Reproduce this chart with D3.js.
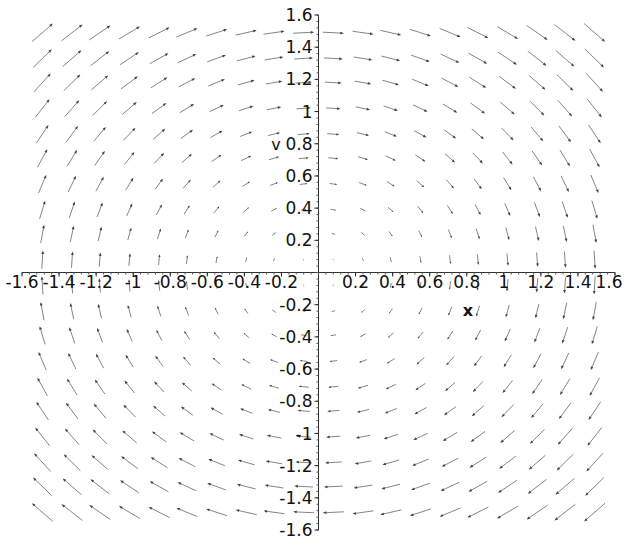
<!DOCTYPE html>
<html>
<head>
<meta charset="utf-8">
<script src="https://cdn.jsdelivr.net/npm/d3@7"></script>
<style>
  html, body { margin: 0; padding: 0; background: #fff; }
  svg text { font-family: "DejaVu Sans", "Liberation Sans", sans-serif; fill: #111; }
</style>
</head>
<body>
<svg id="field" width="626" height="542"></svg>
<script>
const svg = d3.select("#field");
const width = 626;
const height = 542;

// grid of arrow positions (cell centres)
const xs = [-1.49, -1.33, -1.18, -1.02, -0.86, -0.71, -0.55, -0.39, -0.24, -0.08,
            0.08, 0.24, 0.39, 0.55, 0.71, 0.86, 1.02, 1.18, 1.33, 1.49];
const vs = [1.49, 1.33, 1.18, 1.02, 0.86, 0.71, 0.55, 0.39, 0.24, 0.08,
            -0.08, -0.24, -0.39, -0.55, -0.71, -0.86, -1.02, -1.18, -1.33, -1.49];

// horizontal part of each arrow, same along a row (top to bottom)
const rowDx = [1.49, 1.33, 1.18, 1.02, 0.86, 0.71, 0.55, 0.39, 0.24, 0.08,
               -0.08, -0.24, -0.39, -0.55, -0.71, -0.86, -1.02, -1.18, -1.33, -1.49];
// vertical part of each arrow, same along a column (left to right)
const colDv = [1.49, 1.33, 1.18, 1.02, 0.86, 0.71, 0.55, 0.39, 0.24, 0.08,
               -0.08, -0.24, -0.39, -0.55, -0.71, -0.86, -1.02, -1.18, -1.33, -1.49];

const xTicks = [-1.6, -1.4, -1.2, -1, -0.8, -0.6, -0.4, -0.2, 0.2, 0.4, 0.6, 0.8, 1, 1.2, 1.4, 1.6];
const vTicks = [-1.6, -1.4, -1.2, -1, -0.8, -0.6, -0.4, -0.2, 0.2, 0.4, 0.6, 0.8, 1, 1.2, 1.4, 1.6];

const x = d3.scaleLinear().domain([-1.6, 1.6]).range([22, 615]);
const y = d3.scaleLinear().domain([-1.6, 1.6]).range([530, 15]);

// arrows scaled so the longest one is one grid step long
const step = xs[1] - xs[0];
const maxLen = d3.max(rowDx, a => d3.max(colDv, b => Math.hypot(a, b)));
const k = step / maxLen;

const arrows = [];
vs.forEach((v, i) => {
  xs.forEach((xv, j) => {
    arrows.push({ x: xv, v: v, dx: rowDx[i] * k, dv: colDv[j] * k });
  });
});

svg.append("rect").attr("width", width).attr("height", height).attr("fill", "#fff");

const field = svg.append("g").attr("class", "arrows");

arrows.forEach(d => {
  const x1 = x(d.x - d.dx / 2), y1 = y(d.v - d.dv / 2);
  const x2 = x(d.x + d.dx / 2), y2 = y(d.v + d.dv / 2);
  const len = Math.hypot(x2 - x1, y2 - y1);
  if (len < 0.5) return;
  const ux = (x2 - x1) / len, uy = (y2 - y1) / len;
  const hl = Math.min(3.5, len * 0.25), hw = hl * 0.4;

  field.append("line")
    .attr("x1", x1).attr("y1", y1)
    .attr("x2", x2 - ux * hl * 0.5).attr("y2", y2 - uy * hl * 0.5)
    .attr("stroke", "#777")
    .attr("stroke-width", 0.9);

  field.append("path")
    .attr("d", `M${x2},${y2}L${x2 - ux * hl - uy * hw},${y2 - uy * hl + ux * hw}` +
               `L${x2 - ux * hl + uy * hw},${y2 - uy * hl - ux * hw}Z`)
    .attr("fill", "#444");
});

// axes through the origin
const axes = svg.append("g").attr("class", "axes");
const x0 = x(0), y0 = y(0);

axes.append("line")
  .attr("x1", x(-1.6)).attr("x2", x(1.6))
  .attr("y1", y0).attr("y2", y0)
  .attr("stroke", "#333");
axes.append("line")
  .attr("x1", x0).attr("x2", x0)
  .attr("y1", y(1.6)).attr("y2", y(-1.6))
  .attr("stroke", "#333");

// minor ticks every 0.04
const minor = d3.range(-40, 41).map(i => i * 0.04);
axes.selectAll(".xminor").data(minor).join("line")
  .attr("x1", d => x(d)).attr("x2", d => x(d))
  .attr("y1", y0).attr("y2", y0 + 2)
  .attr("stroke", "#555");
axes.selectAll(".vminor").data(minor).join("line")
  .attr("x1", x0 - 2).attr("x2", x0)
  .attr("y1", d => y(d)).attr("y2", d => y(d))
  .attr("stroke", "#555");

// major ticks and labels
const fmt = d => String(d);

axes.selectAll(".xtick").data(xTicks).join("line")
  .attr("x1", d => x(d)).attr("x2", d => x(d))
  .attr("y1", y0).attr("y2", y0 + 4)
  .attr("stroke", "#222");
axes.selectAll(".xlabel").data(xTicks).join("text")
  .attr("x", d => Math.min(x(d), width - 17))
  .attr("y", y0 + 15)
  .attr("text-anchor", "middle")
  .attr("font-size", 17)
  .text(fmt);

axes.selectAll(".vtick").data(vTicks).join("line")
  .attr("x1", x0 - 4).attr("x2", x0)
  .attr("y1", d => y(d)).attr("y2", d => y(d))
  .attr("stroke", "#222");
axes.selectAll(".vlabel").data(vTicks).join("text")
  .attr("x", x0 - 6)
  .attr("y", d => y(d))
  .attr("dy", "0.36em")
  .attr("text-anchor", "end")
  .attr("font-size", 17)
  .text(fmt);

// axis names
axes.append("text")
  .attr("x", 468).attr("y", 316)
  .attr("text-anchor", "middle")
  .attr("font-size", 16)
  .attr("font-weight", "bold")
  .text("x");
axes.append("text")
  .attr("x", 276).attr("y", y(0.8))
  .attr("dy", "0.36em")
  .attr("text-anchor", "middle")
  .attr("font-size", 16)
  .text("v");
</script>
</body>
</html>
